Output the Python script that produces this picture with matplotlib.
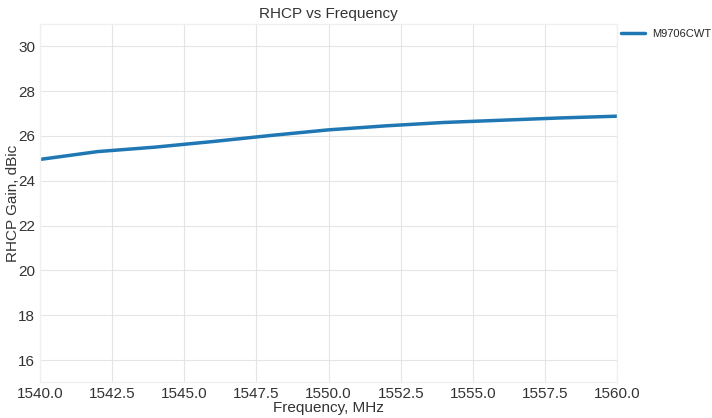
import matplotlib
matplotlib.use("Agg")
import matplotlib.pyplot as plt

freq = [1540, 1542, 1544, 1546, 1548, 1550, 1552, 1554, 1556, 1558, 1560]
gain = [24.95, 25.3, 25.5, 25.75, 26.02, 26.27, 26.45, 26.6, 26.7, 26.8, 26.88]
series_name = "M9706CWT"

plt.style.use("seaborn-v0_8-whitegrid")
plt.rcParams["font.family"] = ["Liberation Sans", "DejaVu Sans"]

fig, ax = plt.subplots(figsize=(7.12, 4.18), dpi=100)
ax.plot(freq, gain, color="#1f77b4", linewidth=2.5, label=series_name)

ax.set_xlim(1540, 1560)
ax.set_ylim(15, 31)
ax.set_yticks([16, 18, 20, 22, 24, 26, 28, 30])
ax.set_title("RHCP vs Frequency", fontsize=11, color="#333333", pad=4)
ax.set_xlabel("Frequency, MHz", fontsize=11, color="#333333", labelpad=0)
ax.set_ylabel("RHCP Gain, dBic", fontsize=11, color="#333333")
ax.yaxis.set_label_coords(-0.035, 0.5)
ax.tick_params(labelsize=11, colors="#333333")
ax.grid(color="#e5e5e5", linewidth=0.8)
# very faint frame around the plot area
for s in ax.spines.values():
    s.set_visible(True)
    s.set_color("#f0f0f0")
    s.set_linewidth(1.0)

ax.legend(loc="upper left", bbox_to_anchor=(1.0, 0.995), frameon=False,
          fontsize=8, handlelength=2.2, handletextpad=0.6,
          borderaxespad=0.0, borderpad=0.3)

fig.subplots_adjust(left=0.056, right=0.867, top=0.943, bottom=0.085)
fig.savefig("out.png")
